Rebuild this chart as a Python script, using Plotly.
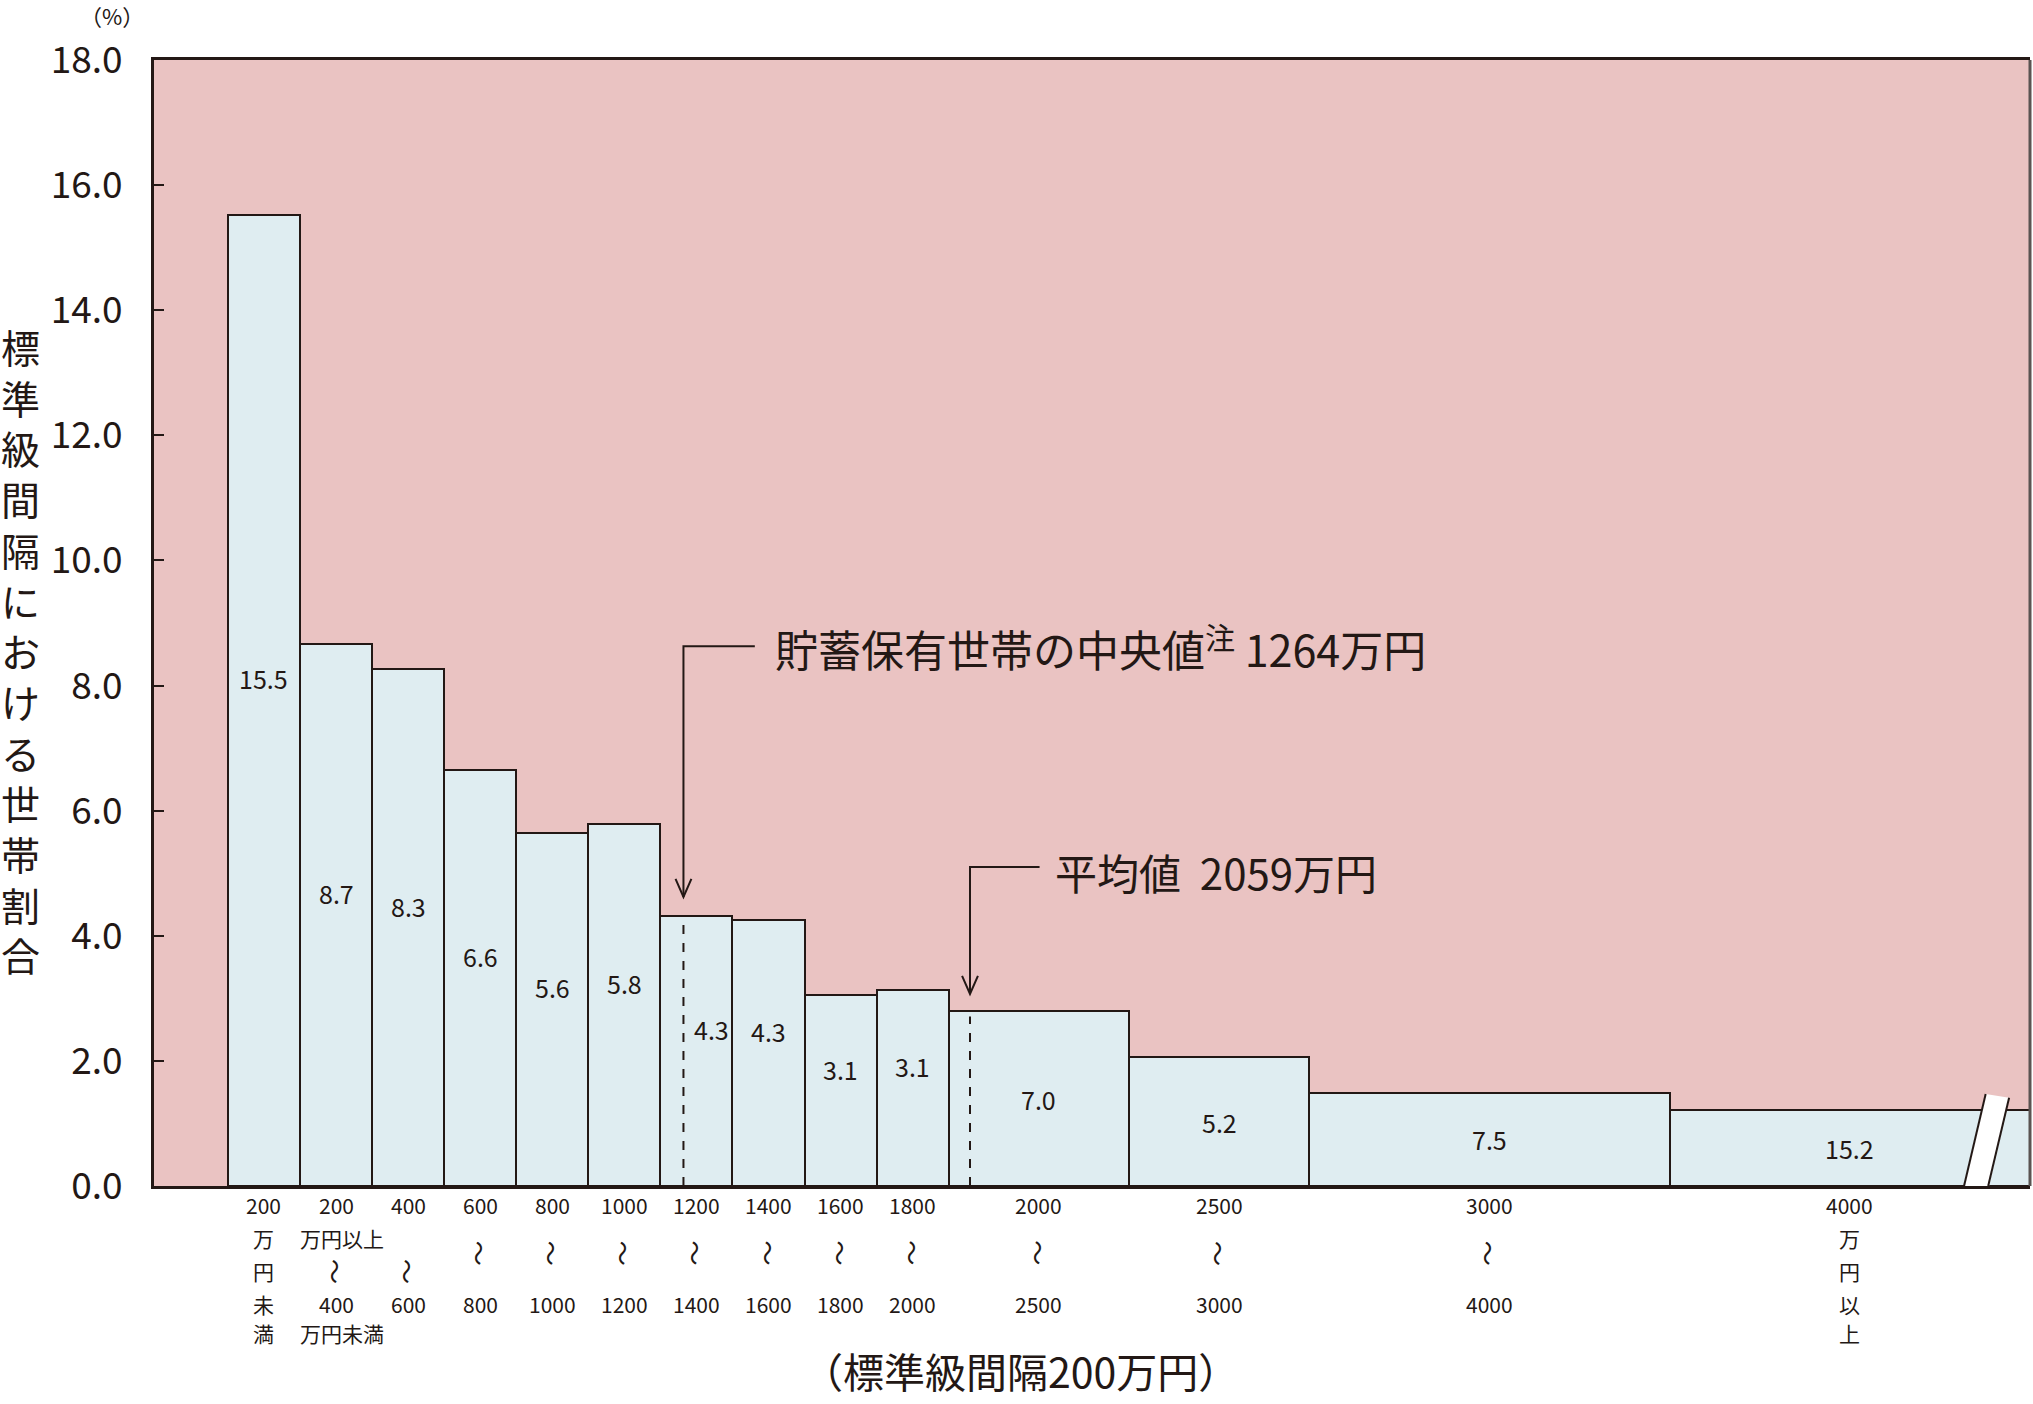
import plotly.graph_objects as go

# ---------------- data ----------------
class_edges = [0, 200, 400, 600, 800, 1000, 1200, 1400, 1600, 1800, 2000, 2500, 3000, 4000, 5000]
share_labels = [15.5, 8.7, 8.3, 6.6, 5.6, 5.8, 4.3, 4.3, 3.1, 3.1, 7.0, 5.2, 7.5, 15.2]
bar_heights = [15.53, 8.66, 8.26, 6.65, 5.65, 5.79, 4.32, 4.25, 3.05, 3.14, 2.79, 2.06, 1.49, 1.21]
tick_top = ["200", "200", "400", "600", "800", "1000", "1200", "1400", "1600", "1800",
            "2000", "2500", "3000", "4000"]
tick_bottom = ["", "400", "600", "800", "1000", "1200", "1400", "1600", "1800", "2000",
               "2500", "3000", "4000", ""]
first_col_chars = ["万", "円", "未", "満"]
last_col_chars = ["万", "円", "以", "上"]
median_value = 1264
mean_value = 2059
y_ticks = [0, 2, 4, 6, 8, 10, 12, 14, 16, 18]
y_title = "標準級間隔における世帯割合"
x_title = "（標準級間隔200万円）"
median_text = "貯蓄保有世帯の中央値<sup>注</sup> 1264万円"
mean_text = "平均値  2059万円"
wave = "〜"

# ---------------- style ----------------
INK = "#231815"
PINK = "#EAC3C2"
BLUE = "#DFEDF1"
FONT = "Noto Sans CJK JP"

W, H = 2033, 1404
ML, MR, MT, MB = 154, 3, 60, 218
XR = [-205, 5000]
YR = [0, 18]

centers = [(a + b) / 2 for a, b in zip(class_edges[:-1], class_edges[1:])]
widths = [b - a for a, b in zip(class_edges[:-1], class_edges[1:])]

fig = go.Figure()
fig.add_trace(go.Bar(
    x=centers, y=bar_heights, width=widths,
    marker=dict(color=BLUE, line=dict(color=INK, width=2)),
    hoverinfo="skip", showlegend=False,
))

annotations = []
shapes = []

# value labels inside bars
for i, (c, h, w, lab) in enumerate(zip(centers, bar_heights, widths, share_labels)):
    xs = 15 if class_edges[i] < median_value < class_edges[i + 1] else 0
    annotations.append(dict(
        x=c, y=h / 2, xref="x", yref="y", text=f"{lab:.1f}", showarrow=False,
        xshift=xs, yshift=22 if w == 200 else 0,
        font=dict(family=FONT, size=25, color=INK),
    ))

# dashed lines for median / mean
for v in (median_value, mean_value):
    idx = next(i for i in range(len(bar_heights)) if class_edges[i] <= v < class_edges[i + 1])
    shapes.append(dict(type="line", xref="x", yref="y", x0=v, x1=v, y0=0,
                       y1=bar_heights[idx] - 0.08,
                       line=dict(color=INK, width=2, dash="dash"), layer="above"))

# elbow arrows + texts
def elbow(v, y_h, x_end, y_tip):
    shapes.append(dict(type="path", xref="x", yref="y",
                       path=f"M {x_end},{y_h} L {v},{y_h} L {v},{y_tip}",
                       line=dict(color=INK, width=2), layer="above"))
    shapes.append(dict(type="path", xref="x", yref="y",
                       path=f"M {v-22},{y_tip+0.29} L {v},{y_tip} L {v+22},{y_tip+0.29}",
                       line=dict(color=INK, width=2), layer="above"))

elbow(median_value, 8.63, 1462, 4.62)
elbow(mean_value, 5.10, 2252, 3.07)
annotations.append(dict(x=1512, y=8.62, xref="x", yref="y", text=median_text,
                        showarrow=False, xanchor="left", yanchor="middle",
                        font=dict(family=FONT, size=43, color=INK)))
annotations.append(dict(x=2289, y=5.02, xref="x", yref="y", text=mean_text,
                        showarrow=False, xanchor="left", yanchor="middle",
                        font=dict(family=FONT, size=42, color=INK)))

# x category labels below axis (pixel rows below plot bottom)
plot_bottom = H - MB
def below(x, text, py, xanchor="center", size=21, angle=0):
    annotations.append(dict(x=x, y=0, xref="x", yref="paper", text=text, showarrow=False,
                            xanchor=xanchor, yanchor="middle", yshift=-(py - plot_bottom),
                            textangle=angle,
                            font=dict(family=FONT, size=size, color=INK)))

rows = [1238, 1271, 1304, 1333]
for i, c in enumerate(centers):
    below(c, tick_top[i], 1205)
    if i == 0:
        for ch, py in zip(first_col_chars, rows):
            below(c, ch, py)
    elif i == len(centers) - 1:
        for ch, py in zip(last_col_chars, rows):
            below(c, ch, py)
    elif i in (1, 2):
        below(c, wave, 1271, size=25, angle=90)
        below(c, tick_bottom[i], 1304)
    else:
        below(c, wave, 1253, size=25, angle=90)
        below(c, tick_bottom[i], 1304)
below(class_edges[1] - 5, "万円以上", 1238, xanchor="left")
below(class_edges[1] - 5, "万円未満", 1333, xanchor="left")

# axis titles
annotations.append(dict(x=(1020 - ML) / (W - ML - MR), y=0, xref="paper", yref="paper",
                        yshift=-(1370 - plot_bottom), text=x_title, showarrow=False,
                        xanchor="center", yanchor="middle",
                        font=dict(family=FONT, size=41, color=INK)))
annotations.append(dict(x=(20 - ML) / (W - ML - MR), y=(plot_bottom - 650) / (H - MT - MB),
                        xref="paper", yref="paper", text="<br>".join(y_title),
                        showarrow=False, xanchor="center", yanchor="middle",
                        font=dict(family=FONT, size=39, color=INK)))
annotations.append(dict(x=(112 - ML) / (W - ML - MR), y=(plot_bottom - 15) / (H - MT - MB),
                        xref="paper", yref="paper", text="（%）", showarrow=False,
                        xanchor="center", yanchor="middle",
                        font=dict(family=FONT, size=22, color=INK)))

# right border (gray)
shapes.append(dict(type="line", xref="paper", yref="paper", x0=1, x1=1, y0=0, y1=1,
                   line=dict(color="#5a5452", width=3), layer="above"))

# axis break symbol on last bar
brk = "M 4817,-0.06 L 4877,1.47 L 4942,1.41 L 4884,-0.06 Z"
shapes.append(dict(type="path", xref="x", yref="y", path=brk,
                   fillcolor="white", line=dict(width=0), layer="above"))
shapes.append(dict(type="line", xref="x", yref="y", x0=4817, y0=0, x1=4877, y1=1.47,
                   line=dict(color=INK, width=2), layer="above"))
shapes.append(dict(type="line", xref="x", yref="y", x0=4884, y0=0, x1=4942, y1=1.41,
                   line=dict(color=INK, width=2), layer="above"))

fig.update_layout(
    width=W, height=H,
    margin=dict(l=ML, r=MR, t=MT, b=MB, pad=0),
    paper_bgcolor="white", plot_bgcolor=PINK,
    bargap=0,
    font=dict(family=FONT, color=INK),
    annotations=annotations, shapes=shapes,
    xaxis=dict(range=XR, showgrid=False, zeroline=False, showticklabels=False, ticks="",
               showline=True, linecolor=INK, linewidth=3, mirror=True, fixedrange=True),
    yaxis=dict(range=YR, showgrid=False, zeroline=False, tickvals=y_ticks,
               ticktext=[f"{v:.1f}" for v in y_ticks], ticks="inside", ticklen=10,
               tickwidth=2, tickcolor=INK, ticklabelstandoff=21,
               tickfont=dict(family=FONT, size=37, color=INK),
               showline=True, linecolor=INK, linewidth=3, fixedrange=True),
)

fig.write_html("out.html", config={"displayModeBar": False},
               post_script="document.body.style.margin='0';document.body.style.overflow='hidden';")
